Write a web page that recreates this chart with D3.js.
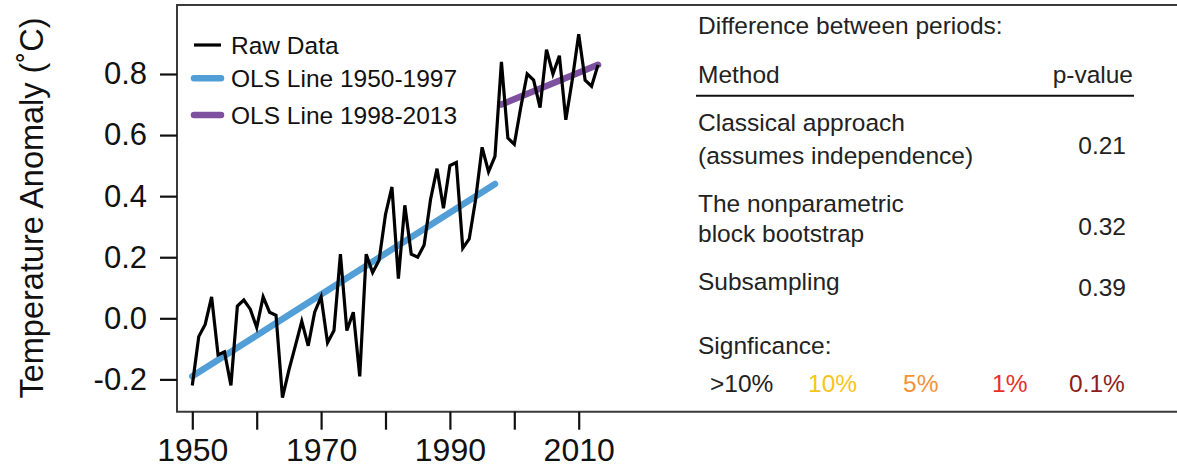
<!DOCTYPE html>
<html>
<head>
<meta charset="utf-8">
<script src="https://cdn.jsdelivr.net/npm/d3@7"></script>
<style>
  html, body { margin: 0; padding: 0; background: #fff; }
  svg { display: block; font-family: "Liberation Sans", Arial, Helvetica, sans-serif; }
</style>
</head>
<body>
<svg id="chart" width="1177" height="472"></svg>
<script>
// ---------------- data ----------------
const years = [1950,1951,1952,1953,1954,1955,1956,1957,1958,1959,
               1960,1961,1962,1963,1964,1965,1966,1967,1968,1969,
               1970,1971,1972,1973,1974,1975,1976,1977,1978,1979,
               1980,1981,1982,1983,1984,1985,1986,1987,1988,1989,
               1990,1991,1992,1993,1994,1995,1996,1997,1998,1999,
               2000,2001,2002,2003,2004,2005,2006,2007,2008,2009,
               2010,2011,2012,2013];
const anomaly = [-0.22,-0.06,-0.02,0.07,-0.12,-0.11,-0.22,0.04,0.06,0.03,
                 -0.03,0.07,0.02,0.01,-0.26,-0.17,-0.09,-0.01,-0.09,0.02,
                 0.07,-0.08,-0.04,0.21,-0.04,0.02,-0.19,0.21,0.15,0.19,
                 0.34,0.43,0.13,0.37,0.21,0.20,0.24,0.39,0.49,0.36,
                 0.50,0.51,0.23,0.26,0.39,0.56,0.48,0.53,0.84,0.59,
                 0.57,0.69,0.80,0.78,0.69,0.88,0.80,0.86,0.65,0.78,
                 0.93,0.78,0.76,0.83];
const olsEarlyYears = [1950, 1997];
const olsEarlyValues = [-0.19, 0.44];
const olsLateYears = [1998, 2013];
const olsLateValues = [0.70, 0.83];

const yTicks = [-0.2, 0.0, 0.2, 0.4, 0.6, 0.8];
const yTickLabels = ["-0.2", "0.0", "0.2", "0.4", "0.6", "0.8"];
const xTicks = [1950, 1960, 1970, 1980, 1990, 2000, 2010];
const xTickLabels = ["1950", "", "1970", "", "1990", "", "2010"];

const legendLabels = ["Raw Data", "OLS Line 1950-1997", "OLS Line 1998-2013"];
const yTitle = "Temperature Anomaly (˚C)";

const tableTitle = "Difference between periods:";
const tableHeader = ["Method", "p-value"];
const methods = [["Classical approach", "(assumes independence)"],
                 ["The nonparametric", "block bootstrap"],
                 ["Subsampling"]];
const pValues = ["0.21", "0.32", "0.39"];
const sigTitle = "Signficance:";
const sigLabels = [">10%", "10%", "5%", "1%", "0.1%"];

// ---------------- layout ----------------
const svg = d3.select("#chart");
const frameLeft = 177, frameTop = 5, frameBottom = 411.7, frameRight = 1180;

const x = d3.scaleLinear().domain([1950, 2010]).range([192.3, 578.7]);
const y = d3.scaleLinear().domain([0, 0.8]).range([318.3, 74]);

const raw = years.map((yr, i) => ({ yr, v: anomaly[i] }));
const line = d3.line().x(d => x(d.yr)).y(d => y(d.v));

// frame
svg.append("path")
  .attr("d", `M${frameRight},${frameTop}H${frameLeft}V${frameBottom}H${frameRight}`)
  .attr("fill", "none").attr("stroke", "#3a3a3a").attr("stroke-width", 2);

// y axis
const yAxis = svg.append("g")
  .attr("transform", `translate(${frameLeft},0)`)
  .call(d3.axisLeft(y).tickValues(yTicks).tickFormat((d, i) => yTickLabels[i]).tickSize(17).tickPadding(13));
yAxis.select(".domain").remove();
yAxis.selectAll(".tick line").attr("stroke", "#111").attr("stroke-width", 2.2);
yAxis.selectAll(".tick text").attr("font-size", 31).attr("fill", "#111")
  .attr("font-family", "Liberation Sans, Arial, sans-serif");

// x axis
const xAxis = svg.append("g")
  .attr("transform", `translate(0,${frameBottom})`)
  .call(d3.axisBottom(x).tickValues(xTicks).tickFormat((d, i) => xTickLabels[i]).tickSize(18).tickPadding(9));
xAxis.select(".domain").remove();
xAxis.selectAll(".tick line").attr("stroke", "#111").attr("stroke-width", 2.2);
xAxis.selectAll(".tick text").attr("font-size", 32).attr("fill", "#111")
  .attr("font-family", "Liberation Sans, Arial, sans-serif");

// y title
svg.append("text")
  .attr("transform", "translate(43,208) rotate(-90)")
  .attr("text-anchor", "middle")
  .attr("font-size", 32.5).attr("fill", "#111")
  .text(yTitle);

// OLS lines
const olsColors = ["#529fd8", "#7e51a0"];
svg.append("path")
  .datum(olsEarlyYears.map((yr, i) => ({ yr, v: olsEarlyValues[i] })))
  .attr("d", line).attr("fill", "none")
  .attr("stroke", olsColors[0]).attr("stroke-width", 6.5).attr("stroke-linecap", "round");
svg.append("path")
  .datum(olsLateYears.map((yr, i) => ({ yr, v: olsLateValues[i] })))
  .attr("d", line).attr("fill", "none")
  .attr("stroke", olsColors[1]).attr("stroke-width", 6.5).attr("stroke-linecap", "round");

// raw data
svg.append("path")
  .datum(raw)
  .attr("d", line).attr("fill", "none")
  .attr("stroke", "#000").attr("stroke-width", 3.2).attr("stroke-linejoin", "miter");

// legend
const legendY = [45, 78.3, 115];
const legendStroke = ["#000", olsColors[0], olsColors[1]];
const legendW = [3.2, 6.5, 6.5];
const lg = svg.append("g");
legendLabels.forEach((lab, i) => {
  lg.append("line").attr("x1", 194).attr("x2", 221).attr("y1", legendY[i]).attr("y2", legendY[i])
    .attr("stroke", legendStroke[i]).attr("stroke-width", legendW[i])
    .attr("stroke-linecap", i === 0 ? "butt" : "round");
  lg.append("text").attr("x", 231).attr("y", legendY[i] + 8.5)
    .attr("font-size", 24.5).attr("fill", "#111").text(lab);
});

// table
const tg = svg.append("g").attr("fill", "#222").attr("font-size", 24.5);
tg.append("text").attr("x", 698).attr("y", 34).text(tableTitle);
tg.append("text").attr("x", 698).attr("y", 83).text(tableHeader[0]);
tg.append("text").attr("x", 1133).attr("y", 83).attr("text-anchor", "end").text(tableHeader[1]);
svg.append("line").attr("x1", 696).attr("x2", 1134).attr("y1", 95.7).attr("y2", 95.7)
  .attr("stroke", "#111").attr("stroke-width", 2);

const methodBase = [[131, 163.5], [212, 242], [290]];
const pBase = [154, 234.5, 296];
methods.forEach((m, i) => {
  m.forEach((ln, j) => {
    tg.append("text").attr("x", 698).attr("y", methodBase[i][j]).text(ln);
  });
  tg.append("text").attr("x", 1126).attr("y", pBase[i]).attr("text-anchor", "end").text(pValues[i]);
});
tg.append("text").attr("x", 698).attr("y", 354).text(sigTitle);

const sigX = [710, 808, 903, 992, 1069];
const sigColors = ["#222", "#f8c41b", "#f59237", "#e6302b", "#8d1d1d"];
sigLabels.forEach((s, i) => {
  svg.append("text").attr("x", sigX[i]).attr("y", 391.5)
    .attr("font-size", 24.5).attr("fill", sigColors[i]).text(s);
});
</script>
</body>
</html>
